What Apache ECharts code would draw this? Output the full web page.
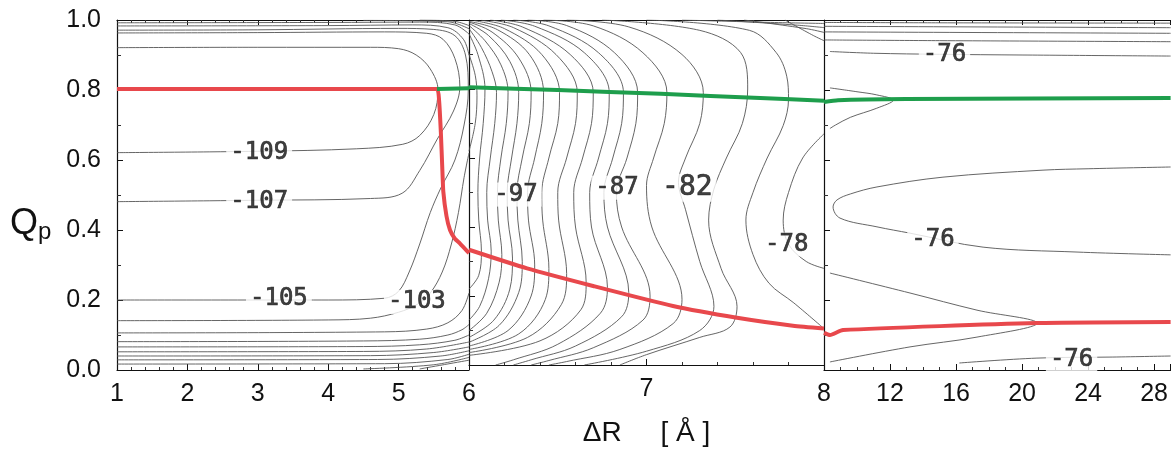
<!DOCTYPE html>
<html><head><meta charset="utf-8">
<script src="https://cdn.jsdelivr.net/npm/echarts@6/dist/echarts.min.js"></script>
<style>html,body{margin:0;padding:0;background:#fff}#c{width:1171px;height:452px}</style>
</head><body><div id="c"></div>
<script>
// ---- axes / ticks ----
const panel1Range = [1, 6];
const panel2Range = [6, 8];
const panel3Range = [8, 29];
const yRange = [0, 1];

// ---- minimum energy paths ----
const redPath1 = [[1,0.803],[5.545,0.803],[5.575,0.77],[5.6,0.68],[5.62,0.58],[5.635,0.51],[5.68,0.44],[5.73,0.4],[5.8,0.375],[5.87,0.362],[6,0.334]];
const redPath2 = [[6,0.334],[6.327,0.28],[6.699,0.229],[7.149,0.171],[7.51,0.137],[7.825,0.114],[8,0.106]];
const redPath3 = [[8,0.106],[8.36,0.1],[9.15,0.114],[20.9,0.134],[29,0.137]];
const greenPath1 = [[5.545,0.803],[6,0.805]];
const greenPath2 = [[6,0.805],[6.5,0.797],[7.08,0.786],[7.64,0.774],[8,0.766]];
const greenPath3 = [[8,0.766],[8.85,0.771],[13,0.774],[29,0.777]];

// ---- contour lines, panel 1 (ΔR 1..6) ----
const contours1 = [
 [[1,0.921],[3,0.922],[4.6,0.922],[5.0,0.918],[5.25,0.9],[5.45,0.86],[5.56,0.8],[5.5,0.73],[5.3,0.67],[5.06,0.645],[4.4,0.632],[3,0.625],[1,0.621]],
 [[1,0.963],[3,0.964],[4.8,0.966],[5.4,0.962],[5.63,0.945],[5.8,0.89],[5.87,0.81],[5.78,0.74],[5.55,0.66],[5.3,0.57],[5.05,0.505],[4.6,0.49],[3,0.485],[1,0.481]],
 [[1,0.971],[3,0.972],[5.0,0.976],[5.5,0.973],[5.8,0.955],[5.95,0.9],[5.99,0.8],[5.93,0.7],[5.8,0.6],[5.6,0.52],[5.45,0.45],[5.3,0.36],[5.15,0.28],[5.0,0.225],[4.8,0.205],[4,0.2],[1,0.2]],
 [[1,0.983],[4,0.984],[5.2,0.986],[5.7,0.978],[5.92,0.945],[6,0.9]],
 [[6,0.62],[5.93,0.55],[5.85,0.45],[5.75,0.36],[5.62,0.28],[5.45,0.22],[5.27,0.188],[5.0,0.165],[4.6,0.148],[4,0.143],[1,0.141]],
 [[1,0.992],[4,0.993],[5.3,0.994],[5.8,0.986],[6,0.96]],
 [[6,0.22],[5.9,0.17],[5.7,0.135],[5.4,0.117],[4.8,0.109],[1,0.106]],
 [[4.5,0.999],[5.7,0.995],[6,0.975]],
 [[1,0.081],[4.5,0.083],[5.3,0.088],[5.7,0.1],[5.9,0.115],[6,0.13]],
 [[5.3,1.0],[5.8,0.996],[6,0.984]],
 [[1,0.066],[4.5,0.067],[5.3,0.072],[5.8,0.085],[6,0.1]],
 [[1,0.052],[4.5,0.053],[5.4,0.06],[6,0.08]],
 [[1,0.04],[4.6,0.041],[5.5,0.05],[6,0.066]],
 [[1,0.029],[4.7,0.03],[5.6,0.04],[6,0.055]],
 [[1,0.017],[4.8,0.018],[5.7,0.03],[6,0.045]],
 [[4.5,0.003],[5.5,0.015],[6,0.036]],
 [[5.3,0.003],[6,0.028]]
];

// ---- contour lines, panel 2 (ΔR 6..8) ----
const contours2 = [
 [[6,0.9],[6.035,0.84],[6.045,0.78],[6.035,0.7],[6,0.62]],
 [[6,0.96],[6.05,0.9],[6.09,0.8],[6.08,0.7],[6.06,0.6],[6.05,0.5],[6.055,0.42],[6.07,0.33],[6.055,0.26],[6,0.22]],
 [[6,0.975],[6.07,0.92],[6.13,0.85],[6.155,0.79],[6.145,0.7],[6.12,0.6],[6.1,0.5],[6.105,0.42],[6.125,0.33],[6.11,0.25],[6.06,0.17],[6,0.13]],
 [[6,0.984],[6.09,0.94],[6.18,0.87],[6.22,0.79],[6.21,0.7],[6.18,0.6],[6.16,0.5],[6.165,0.42],[6.185,0.32],[6.17,0.24],[6.1,0.15],[6,0.1]],
 [[6,0.99],[6.11,0.955],[6.23,0.88],[6.28,0.79],[6.27,0.7],[6.24,0.6],[6.215,0.5],[6.22,0.42],[6.245,0.31],[6.23,0.22],[6.14,0.13],[6,0.08]],
 [[6,0.994],[6.13,0.965],[6.28,0.89],[6.35,0.79],[6.34,0.7],[6.3,0.6],[6.27,0.5],[6.275,0.42],[6.3,0.3],[6.28,0.21],[6.17,0.115],[6,0.066]],
 [[6,0.996],[6.16,0.972],[6.34,0.9],[6.42,0.79],[6.41,0.7],[6.37,0.6],[6.33,0.5],[6.335,0.42],[6.37,0.29],[6.35,0.2],[6.22,0.1],[6,0.055]],
 [[6.03,0.998],[6.2,0.975],[6.41,0.9],[6.51,0.79],[6.5,0.7],[6.45,0.6],[6.41,0.5],[6.415,0.42],[6.45,0.28],[6.43,0.19],[6.28,0.09],[6,0.045]],
 [[6.07,0.999],[6.25,0.978],[6.49,0.9],[6.61,0.79],[6.6,0.7],[6.55,0.6],[6.5,0.5],[6.505,0.42],[6.55,0.265],[6.52,0.175],[6.33,0.08],[6,0.036]],
 [[6.12,1.0],[6.3,0.98],[6.57,0.9],[6.7,0.79],[6.69,0.7],[6.64,0.6],[6.59,0.5],[6.6,0.4],[6.66,0.24],[6.63,0.16],[6.4,0.07],[6,0.028]],
 [[6.18,1.0],[6.37,0.982],[6.65,0.905],[6.79,0.79],[6.78,0.7],[6.73,0.6],[6.68,0.5],[6.69,0.4],[6.78,0.225],[6.74,0.15],[6.5,0.06],[6.25,0.015],[6.15,0]],
 [[6.25,1.0],[6.45,0.983],[6.73,0.905],[6.87,0.79],[6.86,0.7],[6.81,0.6],[6.76,0.5],[6.78,0.4],[6.9,0.21],[6.86,0.14],[6.6,0.055],[6.35,0.015],[6.25,0]],
 [[6.33,1.0],[6.55,0.984],[6.82,0.905],[6.95,0.79],[6.94,0.7],[6.89,0.6],[6.83,0.5],[6.86,0.4],[7.02,0.2],[6.98,0.13],[6.7,0.05],[6.45,0.013],[6.35,0]],
 [[6.42,1.0],[6.7,0.983],[6.98,0.905],[7.115,0.79],[7.1,0.7],[7.04,0.6],[7.0,0.52],[7.03,0.4],[7.2,0.19],[7.15,0.12],[6.85,0.045],[6.55,0.01],[6.45,0]],
 [[6.55,1.0],[6.9,0.98],[7.2,0.9],[7.32,0.79],[7.3,0.7],[7.22,0.6],[7.18,0.53],[7.22,0.45],[7.3,0.3],[7.38,0.17],[7.3,0.1],[7.0,0.04],[6.65,0]],
 [[6.75,1.0],[7.3,0.97],[7.53,0.906],[7.57,0.8],[7.54,0.7],[7.45,0.6],[7.38,0.51],[7.35,0.42],[7.42,0.28],[7.51,0.17],[7.47,0.11],[7.3,0.08],[7.0,0.03],[6.85,0]],
 [[7.0,1.0],[7.58,0.97],[7.73,0.906],[7.79,0.837],[7.8,0.77],[7.77,0.694],[7.68,0.6],[7.6,0.5],[7.56,0.42],[7.6,0.32],[7.69,0.237],[7.83,0.18],[7.99,0.11]],
 [[8,0.67],[7.88,0.6],[7.8,0.5],[7.77,0.42],[7.8,0.35],[7.9,0.3],[8,0.28]],
 [[7.2,1.0],[7.7,0.993],[8,0.99]],
 [[7.4,1.0],[7.85,0.985],[8,0.978]],
 [[7.55,1.0],[7.9,0.975],[8,0.964]],
 [[7.78,1.0],[7.94,0.955],[8,0.94]]
];

// ---- contour lines, panel 3 (ΔR 8..29) ----
const contours3 = [
 [[8,0.993],[15,0.992],[29,0.991]],
 [[8,0.982],[29,0.978]],
 [[8,0.966],[29,0.962]],
 [[8,0.943],[15,0.941],[29,0.938]],
 [[8.36,0.91],[11,0.905],[15,0.902],[20,0.9],[29,0.897]],
 [[8.36,0.806],[10,0.795],[11.2,0.786],[12.2,0.771],[11.2,0.748],[9.6,0.722],[8.7,0.7],[8.36,0.69]],
 [[29,0.58],[24,0.575],[21.27,0.571],[15.21,0.551],[11.21,0.523],[9.6,0.503],[8.79,0.486],[8.55,0.466],[8.97,0.434],[11.21,0.409],[13.21,0.391],[17.64,0.351],[23.33,0.337],[29,0.329]],
 [[8.36,0.277],[13.21,0.22],[17.27,0.171],[20.91,0.134],[17.27,0.094],[13.21,0.066],[8.36,0.023]],
 [[16.2,0.02],[20.9,0.034],[25.5,0.037],[29,0.04]]
];

// ---- contour value labels [ΔR, Qp, text, panel, size] ----
const contourLabels = [
 [3.02,0.62,'-109',0,24],[3.02,0.48,'-107',0,24],[3.3,0.203,'-105',0,24],[5.26,0.194,'-103',0,24],
 [6.265,0.494,'-97',1,24],[6.834,0.514,'-87',1,24],[7.23,0.514,'-82',1,28],[7.79,0.349,'-78',1,24],
 [15.3,0.9,'-76',2,24],[14.6,0.371,'-76',2,24],[23.0,0.029,'-76',2,24]
];

const xTitle = 'ΔR     [ Å ]';

const chart = echarts.init(document.getElementById('c'), null, {renderer:'canvas'});
const grids = [
  {left:117, top:20, width:352, height:350},
  {left:469, top:20, width:355, height:350},
  {left:824, top:20, width:347, height:350}
];
const ranges = [panel1Range, panel2Range, panel3Range];
const intervals = [1, 1, 4];
const lineStyleAxis = {color:'#111', width:1.2};
const xAxes = [], yAxes = [];
ranges.forEach((r, i) => {
  xAxes.push({
    type:'value', gridIndex:i, min:r[0], max:r[1], interval:intervals[i], position:'bottom',
    axisLine:{show:true, onZero:false, lineStyle:lineStyleAxis},
    axisTick:{show:true, inside:true, length:6, lineStyle:{color:'#111'}},
    minorTick:{show:true, splitNumber: i===2 ? 4 : 5, length:3, lineStyle:{color:'#333'}},
    splitLine:{show:false},
    axisLabel:{show:true, fontFamily:'Liberation Sans, Arial', fontSize:25, color:'#111', margin:12,
      showMaxLabel: i===0, showMinLabel: i!==1,
      formatter: v => (i===1 && v!==7) ? '' : String(v)},
    name: i===1 ? xTitle : '', nameLocation:'middle', nameGap:54,
    nameTextStyle:{fontFamily:'Liberation Sans, Arial', fontSize:28, color:'#111'}
  });
  xAxes.push({
    type:'value', gridIndex:i, min:r[0], max:r[1], interval:intervals[i], position:'top',
    axisLine:{show:true, onZero:false, lineStyle:lineStyleAxis},
    axisTick:{show:true, inside:true, length:5, lineStyle:{color:'#111'}},
    minorTick:{show:true, splitNumber: i===2 ? 4 : 5, length:3, lineStyle:{color:'#333'}},
    splitLine:{show:false}, axisLabel:{show:false}
  });
  yAxes.push({
    type:'value', gridIndex:i, min:yRange[0], max:yRange[1], interval:0.2, position:'left',
    axisLine:{show:true, onZero:false, lineStyle:lineStyleAxis},
    axisTick:{show:true, inside:true, length:6, lineStyle:{color:'#111'}},
    minorTick:{show:true, splitNumber:2, length:4, lineStyle:{color:'#333'}},
    splitLine:{show:false},
    axisLabel:{show:i===0, fontFamily:'Liberation Sans, Arial', fontSize:25, color:'#111', margin:16,
      formatter: v => v.toFixed(1)}
  });
});

const series = [];
function addLines(list, gi, style, z, smooth) {
  list.forEach(pts => series.push({
    type:'line', xAxisIndex:gi*2, yAxisIndex:gi, data:pts, showSymbol:false, symbol:'none',
    smooth:smooth, lineStyle:style, z:z, silent:true, animation:false, clip:true
  }));
}
const cStyle = {color:'#555', width:0.9};
addLines(contours1, 0, cStyle, 2, 0.35);
addLines(contours2, 1, cStyle, 2, 0.35);
addLines(contours3, 2, cStyle, 2, 0.35);
const redStyle = {color:'#e8484c', width:4};
const greenStyle = {color:'#1e9e4c', width:4};
addLines([redPath1], 0, redStyle, 6, 0.15);
addLines([redPath2], 1, redStyle, 6, 0.2);
addLines([redPath3], 2, redStyle, 6, 0.2);
addLines([greenPath1], 0, greenStyle, 6, false);
addLines([greenPath2], 1, greenStyle, 6, 0.2);
addLines([greenPath3], 2, greenStyle, 6, 0.2);

[0,1,2].forEach(gi => {
  const pts = contourLabels.filter(l => l[3]===gi);
  series.push({
    type:'scatter', xAxisIndex:gi*2, yAxisIndex:gi, symbolSize:1, itemStyle:{color:'rgba(0,0,0,0)'},
    z:4, silent:true, animation:false,
    data: pts.map(l => ({value:[l[0], l[1]], name:l[2],
      label:{fontSize:l[4]}})),
    label:{show:true, position:'inside', formatter:p => p.name,
      fontFamily:'DejaVu Sans Mono, monospace', fontWeight:'normal',
      color:'#111', textBorderColor:'#111', textBorderWidth:0.7,
      backgroundColor:'#fff', padding:[0,4]}
  });
});

chart.setOption({
  animation:false,
  backgroundColor:'#fff',
  grid: grids,
  xAxis: xAxes,
  yAxis: yAxes,
  series: series,
  graphic: [{
    type:'text', left:10, top:206, z:10,
    style:{text:'{q|Q}{p|p}', rich:{
      q:{fontFamily:'Liberation Sans, Arial', fontSize:36, fill:'#111'},
      p:{fontFamily:'Liberation Sans, Arial', fontSize:24, fill:'#111', padding:[16,0,0,0]}
    }}
  }]
});
</script></body></html>
